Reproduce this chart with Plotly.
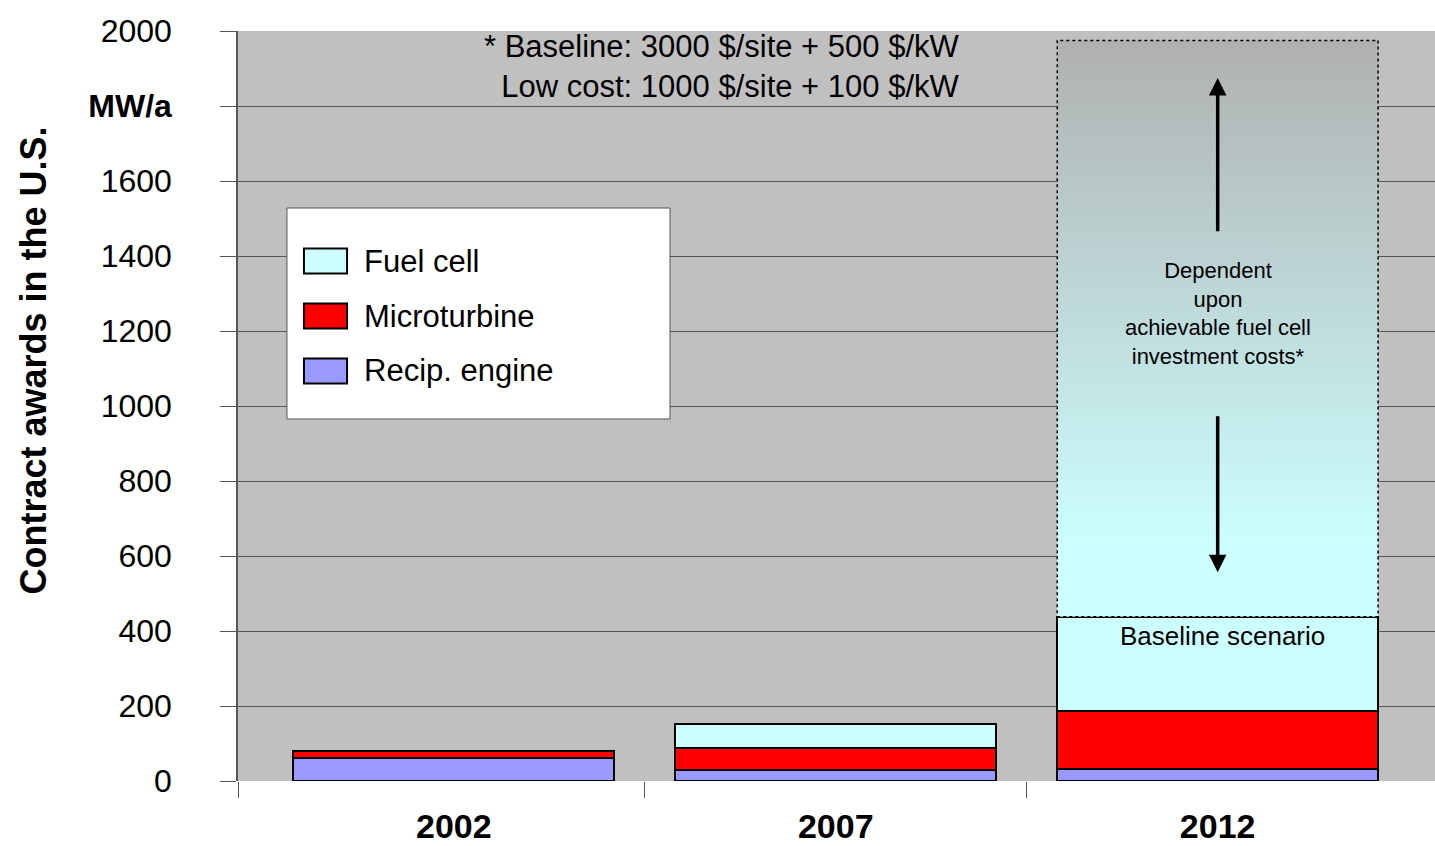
import plotly.graph_objects as go

# ---- data ----
years = ["2002", "2007", "2012"]
recip_engine = [62, 30, 33]
microturbine = [18, 58, 155]
fuel_cell = [0, 65, 250]
upper_bound_2012 = 1975   # top of uncertainty range (MW/a)
y_tick_vals = [0, 200, 400, 600, 800, 1000, 1200, 1400, 1600, 1800, 2000]
y_tick_text = ["0", "200", "400", "600", "800", "1000", "1200", "1400", "1600", "<b>MW/a</b>", "2000"]

SANS = "Liberation Sans, Arial, sans-serif"

BAR_W = 0.84
X_RANGE = [-0.565, 2.569]

fig = go.Figure()

series = [
    ("Recip. engine", recip_engine, "#9999ff"),
    ("Microturbine", microturbine, "#ff0000"),
    ("Fuel cell", fuel_cell, "#ccffff"),
]
for name, vals, col in series:
    fig.add_trace(go.Bar(
        x=years, y=vals, name=name, width=BAR_W,
        marker=dict(color=col, line=dict(color="black", width=2)),
        showlegend=False,
    ))

# uncertainty range above 2012 baseline, gradient fill
base_top = recip_engine[2] + microturbine[2] + fuel_cell[2]
i12 = years.index("2012")
xl, xr = i12 - BAR_W / 2, i12 + BAR_W / 2
fig.add_trace(go.Scatter(
    x=[xl, xr, xr, xl, xl],
    y=[base_top, base_top, upper_bound_2012, upper_bound_2012, base_top],
    xaxis="x2", mode="lines", fill="toself",
    fillgradient=dict(type="vertical",
                      colorscale=[[0, "#ccffff"], [0.12, "#ccffff"], [1, "#b0b0b0"]],
                      start=base_top, stop=upper_bound_2012),
    line=dict(color="black", width=1.5, dash="dot"),
    showlegend=False, hoverinfo="skip",
))

boundaries = [X_RANGE[0]] + [i + 0.5 for i in range(len(years) - 1)]

fig.update_layout(
    barmode="stack",
    width=1435, height=846,
    margin=dict(l=238, r=0, t=31, b=65),
    paper_bgcolor="white",
    plot_bgcolor="#c0c0c0",
    font=dict(family=SANS, color="black", size=28),
    showlegend=False,
    xaxis=dict(
        type="category", range=X_RANGE, automargin=False,
        showgrid=False, zeroline=False, showline=False,
        ticks="", ticklabelstandoff=22,
        tickfont=dict(family=SANS, size=34, color="black", weight="bold"),
    ),
    xaxis2=dict(
        overlaying="x", range=X_RANGE, automargin=False, side="bottom",
        anchor="y", showgrid=False, zeroline=False, showline=False,
        tickvals=boundaries, ticktext=[""] * len(boundaries),
        ticks="outside", ticklen=16, tickcolor="#555555",
    ),
    yaxis=dict(
        range=[0, 2000], tickvals=y_tick_vals, ticktext=y_tick_text,
        automargin=False,
        showgrid=True, gridcolor="#555555", gridwidth=1,
        zeroline=False,
        showline=True, linecolor="#555555", linewidth=1.5,
        ticks="outside", ticklen=16, tickcolor="#555555",
        ticklabelstandoff=42,
        tickfont=dict(family=SANS, size=32, color="black"),
    ),
)

# ---- custom legend (box + swatches + labels) ----
shapes = [dict(type="rect", xref="paper", yref="paper",
               x0=0.0409, x1=0.3609, y0=0.4827, y1=0.764,
               fillcolor="white", line=dict(color="#555555", width=1), layer="above")]
annotations = []
legend_items = list(reversed(series))
for k, (name, _, col) in enumerate(legend_items):
    yc = 0.6933 - k * 0.0733
    shapes.append(dict(type="rect", xref="paper", yref="paper",
                       x0=0.0551, x1=0.0911, y0=yc - 0.0167, y1=yc + 0.0167,
                       fillcolor=col, line=dict(color="black", width=2), layer="above"))
    annotations.append(dict(text=name, xref="paper", yref="paper", x=0.1036, y=yc,
                            xanchor="left", yanchor="middle", showarrow=False,
                            font=dict(family=SANS, size=31, color="black")))

annotations += [
    dict(text="<b>Contract awards in the U.S.</b>", xref="paper", yref="paper",
         x=-0.171, y=0.561, xanchor="center", yanchor="middle",
         textangle=-90, showarrow=False,
         font=dict(family=SANS, size=36, color="black")),
    dict(text="* Baseline: 3000 $/site + 500 $/kW<br>Low cost: 1000 $/site + 100 $/kW",
         xref="paper", yref="paper", x=0.6049, y=1.0, xanchor="right", yanchor="top",
         align="right", showarrow=False, yshift=4,
         font=dict(family=SANS, size=31, color="black")),
    dict(text="Baseline scenario", xref="x2", x=i12, y=base_top, yanchor="top",
         yshift=-2, xshift=5, showarrow=False,
         font=dict(family=SANS, size=26, color="black")),
    dict(text="Dependent<br>upon<br>achievable fuel cell<br>investment costs*",
         xref="x2", x=i12, y=1248, showarrow=False, align="center",
         font=dict(family=SANS, size=22, color="black")),
    dict(text="", xref="x2", x=i12, y=1875, axref="x2", ax=i12, ayref="y", ay=1462,
         showarrow=True, arrowhead=2, arrowsize=1, arrowwidth=3.5, arrowcolor="black"),
    dict(text="", xref="x2", x=i12, y=557, axref="x2", ax=i12, ayref="y", ay=977,
         showarrow=True, arrowhead=2, arrowsize=1, arrowwidth=3.5, arrowcolor="black"),
]
fig.update_layout(annotations=annotations, shapes=shapes)

fig.write_html(
    "out.html",
    config={"displayModeBar": False},
    post_script="document.body.style.margin='0px';"
                "document.documentElement.style.overflow='hidden';",
)
